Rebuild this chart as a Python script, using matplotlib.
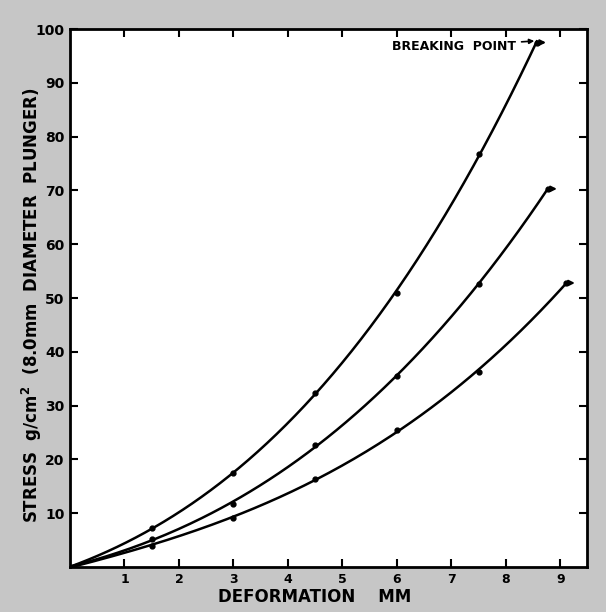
import matplotlib.pyplot as plt
import numpy as np

# measured points (deformation mm, stress g/cm2)
deform = [0, 1.5, 3, 4.5, 6, 7.5]
stress_top = [0, 7.2, 17.5, 32.3, 51.0, 76.8]
stress_mid = [0, 5.3, 11.7, 22.6, 35.6, 52.6]
stress_low = [0, 4.0, 9.2, 16.4, 25.4, 36.2]

# breaking points
break_x = [8.57, 8.77, 9.10]
break_y = [97.5, 70.3, 52.8]

x_ticks = [1, 2, 3, 4, 5, 6, 7, 8, 9]
y_ticks = [10, 20, 30, 40, 50, 60, 70, 80, 90, 100]

plt.rcParams['font.family'] = ['DejaVu Sans']
plt.rcParams['font.weight'] = 'bold'

fig = plt.figure(figsize=(6.06, 6.12), dpi=100, facecolor='#c6c6c6')
ax = fig.add_axes([0.1155, 0.0735, 0.853, 0.879])
ax.set_facecolor('white')

for ys, bx, by in zip([stress_top, stress_mid, stress_low], break_x, break_y):
    xs = np.array(deform + [bx])
    yv = np.array(ys + [by])
    coef = np.polyfit(xs, yv, 3)
    xf = np.linspace(0, bx, 200)
    ax.plot(xf, np.polyval(coef, xf), color='black', lw=1.8)
    ax.plot(deform[1:], ys[1:], 'o', color='black', ms=3.5)
    ax.plot([bx], [by], 'o', color='black', ms=3.5)
    ax.annotate('', xy=(bx + 0.22, by), xytext=(bx, by),
                arrowprops=dict(arrowstyle='-|>', color='black', lw=1.5,
                                mutation_scale=8))

ax.annotate('BREAKING  POINT', xy=(8.55, 97.8), xytext=(7.05, 96.8),
            fontsize=9, fontweight='bold', ha='center', va='center',
            arrowprops=dict(arrowstyle='-|>', color='black', lw=1.2,
                            mutation_scale=7, shrinkA=2, shrinkB=1))

ax.set_xlim(0, 9.49)
ax.set_ylim(0, 100)
ax.set_xticks(x_ticks)
ax.set_yticks(y_ticks)
ax.set_xticklabels([str(v) for v in x_ticks], fontsize=9, fontweight='bold')
ax.set_yticklabels([str(v) for v in y_ticks], fontsize=10, fontweight='bold')
ax.tick_params(direction='in', length=6, width=1.5, top=True, right=True, pad=4)
for s in ax.spines.values():
    s.set_linewidth(2)

ax.set_xlabel('DEFORMATION    MM', fontsize=12, fontweight='bold', va='center')
ax.xaxis.set_label_coords(0.473, -0.056)
ax.set_ylabel('STRESS  g/cm$^{\\mathbf{2}}$  (8.0mm  DIAMETER  PLUNGER)',
              fontsize=12, fontweight='bold', va='center')
ax.yaxis.set_label_coords(-0.073, 0.487)

fig.savefig('out.png', dpi=100, facecolor=fig.get_facecolor())
